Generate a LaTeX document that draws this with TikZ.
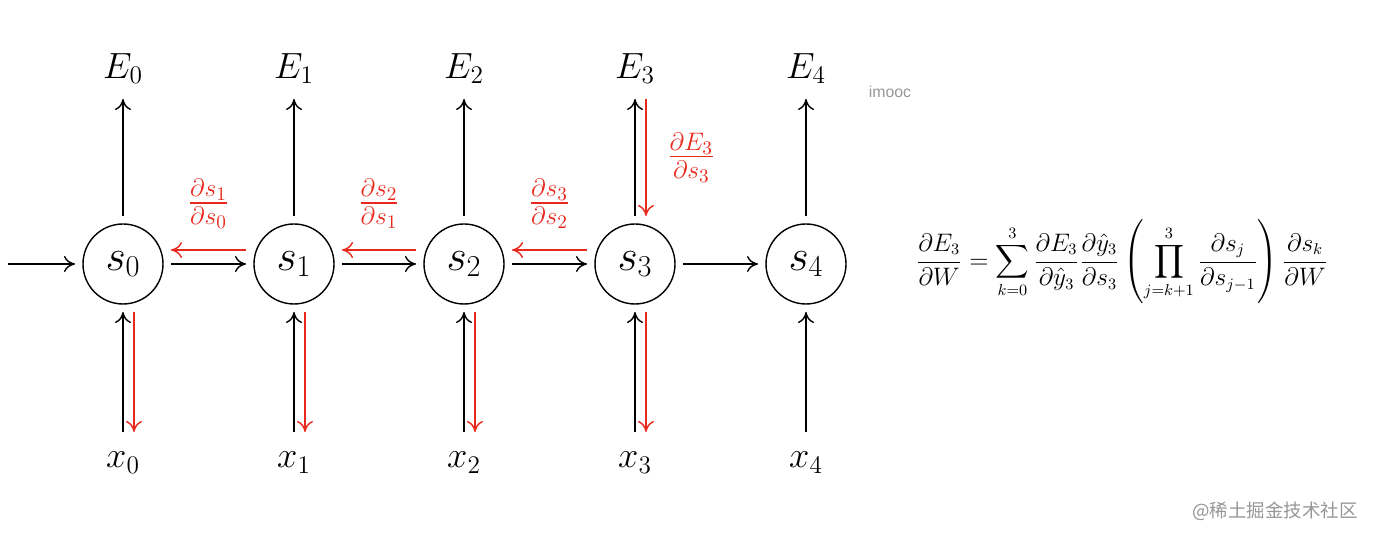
\documentclass[tikz,border=0pt]{standalone}
\usepackage{amsmath,amssymb}
\usepackage{fontspec}
\usetikzlibrary{arrows.meta,positioning,calc}
\newfontfamily\cjk{Noto Sans CJK SC}
\newfontfamily\marksans{Liberation Sans}
\definecolor{gradred}{RGB}{232,42,30}
\definecolor{markgray}{RGB}{150,150,150}
\tikzset{
 state/.style={circle,draw=black,line width=0.8pt,minimum size=1.6cm,inner sep=0pt,outer sep=0.16cm,font=\fontsize{25}{28}\selectfont},
 lbl/.style={inner sep=0pt,outer sep=0.3cm,font=\fontsize{22}{26}\selectfont},
 fwd/.style={-{To[length=2.2mm,width=3.2mm]},line width=0.8pt,draw=black},
 back/.style={-{To[length=2.2mm,width=3.2mm]},line width=0.8pt,draw=gradred},
 grad/.style={text=gradred,font=\fontsize{22}{26}\selectfont},
 wmark/.style={text=markgray}}

\begin{document}
\begin{tikzpicture}
\useasboundingbox (0,0) rectangle (27.46,-10.78);
% states
\node[state] (s0) at (2.46,-5.28) {$s_0$};
\node[state] (s1) at (5.88,-5.28) {$s_1$};
\node[state] (s2) at (9.28,-5.28) {$s_2$};
\node[state] (s3) at (12.70,-5.28) {$s_3$};
\node[state] (s4) at (16.12,-5.28) {$s_4$};
% outputs and inputs
\node[lbl,above=2.34cm of s0] (E0) {$E_0$};
\node[lbl,above=2.34cm of s1] (E1) {$E_1$};
\node[lbl,above=2.34cm of s2] (E2) {$E_2$};
\node[lbl,above=2.34cm of s3] (E3) {$E_3$};
\node[lbl,above=2.34cm of s4] (E4) {$E_4$};
\node[lbl,below=2.4cm of s0,outer sep=0.4cm] (x0) {$x_0$};
\node[lbl,below=2.4cm of s1,outer sep=0.4cm] (x1) {$x_1$};
\node[lbl,below=2.4cm of s2,outer sep=0.4cm] (x2) {$x_2$};
\node[lbl,below=2.4cm of s3,outer sep=0.4cm] (x3) {$x_3$};
\node[lbl,below=2.4cm of s4,outer sep=0.4cm] (x4) {$x_4$};
\coordinate (in) at (0.16,-5.28);
% forward pass
\draw[fwd] (in)--(s0);
\draw[fwd] (s0)--(s1); \draw[fwd] (s1)--(s2); \draw[fwd] (s2)--(s3); \draw[fwd] (s3)--(s4);
\draw[fwd] (s0)--(E0); \draw[fwd] (s1)--(E1); \draw[fwd] (s2)--(E2); \draw[fwd] (s3)--(E3); \draw[fwd] (s4)--(E4);
\draw[fwd] (x0)--(s0); \draw[fwd] (x1)--(s1); \draw[fwd] (x2)--(s2); \draw[fwd] (x3)--(s3); \draw[fwd] (x4)--(s4);
% backward pass
\draw[back] ([yshift=0.28cm]s1.west)--node[grad,above=0.3cm]{$\frac{\partial s_1}{\partial s_0}$}([yshift=0.28cm]s0.east);
\draw[back] ([yshift=0.28cm]s2.west)--node[grad,above=0.3cm]{$\frac{\partial s_2}{\partial s_1}$}([yshift=0.28cm]s1.east);
\draw[back] ([yshift=0.28cm]s3.west)--node[grad,above=0.3cm]{$\frac{\partial s_3}{\partial s_2}$}([yshift=0.28cm]s2.east);
\draw[back] ([xshift=0.22cm]E3.south)--node[grad,right=0.3cm,pos=0.5]{$\frac{\partial E_3}{\partial s_3}$}([xshift=0.22cm]s3.north);
\draw[back] ([xshift=0.22cm]s0.south)--([xshift=0.22cm]x0.north);
\draw[back] ([xshift=0.22cm]s1.south)--([xshift=0.22cm]x1.north);
\draw[back] ([xshift=0.22cm]s2.south)--([xshift=0.22cm]x2.north);
\draw[back] ([xshift=0.22cm]s3.south)--([xshift=0.22cm]x3.north);
% formula
\node[font=\fontsize{13.3}{16}\selectfont] (bptt) at (22.44,-5.24)
 {$\displaystyle\frac{\partial E_3}{\partial W}=\sum_{k=0}^{3}\frac{\partial E_3}{\partial\hat{y}_3}\frac{\partial\hat{y}_3}{\partial s_3}\left(\prod_{j=k+1}^{3}\frac{\partial s_j}{\partial s_{j-1}}\right)\frac{\partial s_k}{\partial W}$};
% watermarks
\node[wmark,font=\marksans\fontsize{9}{11}\selectfont] (imooc) at (17.8,-1.84) {imooc};
\node[wmark,font=\cjk\fontsize{10.5}{13}\selectfont] (juejin) at (25.5,-10.22) {@稀土掘金技术社区};
\end{tikzpicture}
\end{document}
